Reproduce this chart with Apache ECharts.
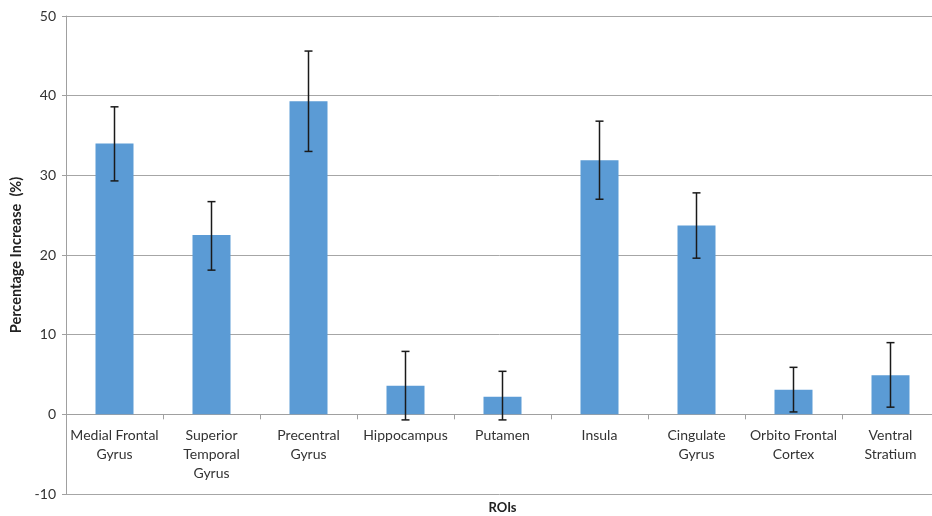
<!DOCTYPE html>
<html>
<head>
<meta charset="utf-8">
<script src="https://cdn.jsdelivr.net/npm/echarts@6/dist/echarts.min.js"></script>
<style>
html,body{margin:0;padding:0;background:#fff;}
#chart{width:932px;height:516px;}
</style>
</head>
<body>
<div id="chart"></div>
<script>
const categories = ["Medial Frontal\nGyrus", "Superior\nTemporal\nGyrus", "Precentral\nGyrus", "Hippocampus", "Putamen", "Insula", "Cingulate\nGyrus", "Orbito Frontal\nCortex", "Ventral\nStratium"];
const values = [34.0, 22.5, 39.3, 3.6, 2.2, 31.9, 23.7, 3.1, 4.9];
const errorHigh = [38.6, 26.7, 45.6, 7.9, 5.4, 36.8, 27.8, 5.9, 9.0];
const errorLow = [29.3, 18.1, 33.0, -0.7, -0.7, 27.0, 19.6, 0.3, 0.9];
const yTicks = { min: -10, max: 50, interval: 10 };

const chart = echarts.init(document.getElementById('chart'), null, { renderer: 'canvas' });
const font = 'Lato, "Liberation Sans", sans-serif';
const errData = categories.map((c, i) => [i, errorLow[i], errorHigh[i]]);
const gridTop = 16, gridBottom = 22, H = 516;
const plotH = H - gridTop - gridBottom;
const zeroOffset = -plotH * (0 - yTicks.min) / (yTicks.max - yTicks.min);

chart.setOption({
  animation: false,
  backgroundColor: '#ffffff',
  grid: { left: 66, right: -7, top: gridTop, bottom: gridBottom, containLabel: false, outerBoundsMode: 'none' },
  xAxis: {
    type: 'category',
    data: categories,
    position: 'bottom',
    offset: zeroOffset,
    name: 'ROIs',
    nameLocation: 'middle',
    nameGap: 87,
    nameTextStyle: { fontFamily: font, fontWeight: 'bold', fontSize: 13, color: '#222' },
    axisLine: { onZero: false, lineStyle: { color: '#a0a0a0', width: 1 } },
    axisTick: { show: true, alignWithLabel: false, length: 5, lineStyle: { color: '#a0a0a0' } },
    axisLabel: { interval: 0, fontFamily: font, fontSize: 14, color: '#333', lineHeight: 19, margin: 12 },
    splitLine: { show: false }
  },
  yAxis: {
    type: 'value',
    min: yTicks.min,
    max: yTicks.max,
    interval: yTicks.interval,
    name: 'Percentage Increase  (%)',
    nameLocation: 'middle',
    nameGap: 39,
    nameTextStyle: { fontFamily: font, fontWeight: 'bold', fontSize: 14.5, color: '#222' },
    axisLine: { show: true, lineStyle: { color: '#a0a0a0', width: 1 } },
    axisTick: { show: true, length: 4, lineStyle: { color: '#a0a0a0' } },
    axisLabel: { fontFamily: font, fontSize: 14, color: '#333', margin: 10 },
    splitLine: { show: true, lineStyle: { color: '#a6a6a6', width: 1 } }
  },
  series: [
    {
      type: 'bar',
      data: values,
      barWidth: 38,
      itemStyle: { color: '#5b9bd5' },
      z: 2
    },
    {
      type: 'custom',
      data: errData,
      z: 5,
      renderItem: function (params, api) {
        const x = api.value(0);
        const lo = api.coord([x, api.value(1)]);
        const hi = api.coord([x, api.value(2)]);
        const hw = 4;
        const style = { stroke: '#1a1a1a', lineWidth: 1.5 };
        return {
          type: 'group',
          children: [
            { type: 'line', shape: { x1: hi[0], y1: hi[1], x2: lo[0], y2: lo[1] }, style },
            { type: 'line', shape: { x1: hi[0] - hw, y1: hi[1], x2: hi[0] + hw, y2: hi[1] }, style },
            { type: 'line', shape: { x1: lo[0] - hw, y1: lo[1], x2: lo[0] + hw, y2: lo[1] }, style }
          ]
        };
      }
    }
  ]
});
</script>
</body>
</html>
